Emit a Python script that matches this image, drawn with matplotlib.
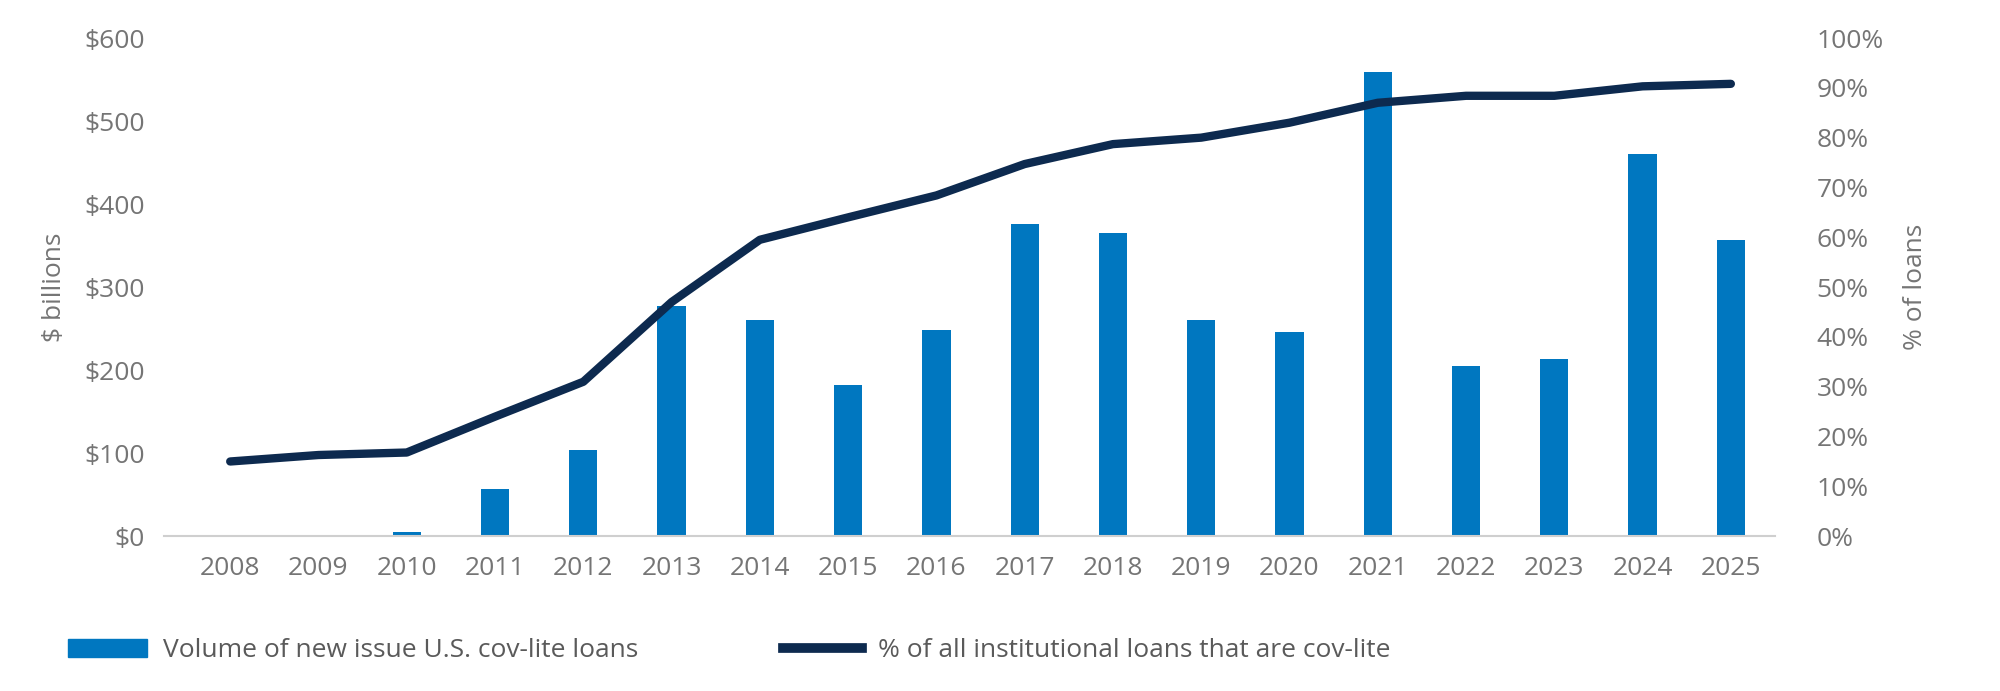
import numpy as np
import matplotlib.pyplot as plt
from matplotlib.ticker import FuncFormatter
from matplotlib.patches import Patch
from matplotlib.lines import Line2D

plt.rcParams['font.family'] = ['Open Sans', 'DejaVu Sans']

years = [str(y) for y in range(2008, 2026)]
volume = [1, 1, 5, 57, 104, 277, 260, 182, 248, 376, 365, 260, 246, 559, 205, 213, 460, 357]
pct_covlite = [15, 16.3, 16.8, 24, 31, 47, 59.5, 64, 68.4, 74.7, 78.7, 80, 83, 87, 88.4, 88.4, 90.3, 90.8]

bar_color = '#0077C0'
line_color = '#0D2A4F'
grey = '#757575'
fs = 19

fig = plt.figure(figsize=(20, 6.91), dpi=100)
ax = fig.add_axes([0.082, 0.224, 0.8055, 0.721])
x = np.arange(len(years))
ax.bar(x, volume, width=0.32, color=bar_color, zorder=2)
ax.set_ylim(0, 600)
ax.set_yticks(range(0, 601, 100))
ax.yaxis.set_major_formatter(FuncFormatter(lambda v, p: f'${int(v)}'))
ax.set_xlim(-0.75, len(years) - 0.5)
ax.set_xticks(x)
ax.set_xticklabels(years)
for s in ['top', 'right', 'left']:
    ax.spines[s].set_visible(False)
ax.spines['bottom'].set_color('#cfcfcf')
ax.spines['bottom'].set_linewidth(1.5)
ax.tick_params(axis='both', length=0, labelsize=fs, labelcolor=grey, pad=14)
ax.set_ylabel('$ billions', fontsize=fs, color=grey, labelpad=12)

ax2 = ax.twinx()
ax2.plot(x, pct_covlite, color=line_color, linewidth=6, zorder=3,
         solid_capstyle='round')
ax2.set_ylim(0, 100)
ax2.set_yticks(range(0, 101, 10))
ax2.yaxis.set_major_formatter(FuncFormatter(lambda v, p: f'{int(v)}%'))
for s in ['top', 'right', 'left', 'bottom']:
    ax2.spines[s].set_visible(False)
ax2.tick_params(axis='y', length=0, labelsize=fs, labelcolor=grey, pad=30)
ax2.set_ylabel('% of loans', fontsize=fs, color=grey, labelpad=14)

handles = [Patch(color=bar_color), Line2D([0], [0], color=line_color, linewidth=7)]
labels = ['Volume of new issue U.S. cov-lite loans', '% of all institutional loans that are cov-lite']
fig.legend(handles, labels, loc='center left', bbox_to_anchor=(0.022, 0.058), ncol=2,
           frameon=False, fontsize=fs, labelcolor='#5a5a5a', handlelength=3,
           columnspacing=5.5, handleheight=0.7, handletextpad=0.6)

fig.savefig('out.png', dpi=100)
